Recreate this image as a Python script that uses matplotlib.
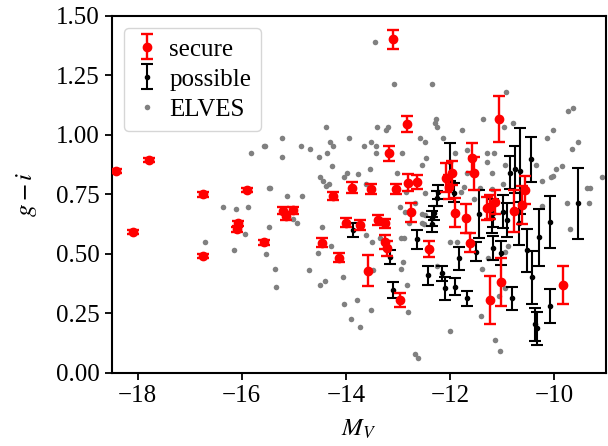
import numpy as np
import matplotlib
matplotlib.use("Agg")
import matplotlib.pyplot as plt

plt.rcParams['font.family'] = 'serif'
plt.rcParams['font.serif'] = ['Liberation Serif', 'DejaVu Serif']
plt.rcParams['mathtext.fontset'] = 'stix'
plt.rcParams['font.size'] = 18

# secure satellites: M_V, g-i, error
sec_mv = [-18.42, -18.09, -17.78, -16.75, -16.75, -16.07, -16.10, -15.90, -15.58,
          -15.21, -15.02, -15.15, -14.25, -14.45, -14.14, -13.99, -13.88, -13.73,
          -13.57, -13.52, -13.39, -13.24, -13.24, -13.20, -13.10, -13.17, -13.04,
          -12.95, -12.83, -12.80, -12.75, -12.63, -12.40, -12.08, -11.96, -12.02,
          -11.90, -11.70, -11.62, -11.57, -11.53, -11.29, -11.22, -11.14, -11.05,
          -11.22, -11.01, -10.77, -10.61, -10.56, -9.82]
sec_gi = [0.847, 0.59, 0.893, 0.749, 0.49, 0.627, 0.603, 0.767, 0.548,
          0.68, 0.683, 0.658, 0.742, 0.546, 0.483, 0.63, 0.777, 0.62,
          0.428, 0.772, 0.641, 0.627, 0.55, 0.522, 1.40, 0.921, 0.772,
          0.305, 1.045, 0.798, 0.674, 0.802, 0.52, 0.819, 0.837, 0.781,
          0.672, 0.648, 0.546, 0.903, 0.837, 0.69, 0.697, 0.718, 1.065,
          0.305, 0.382, 0.679, 0.704, 0.767, 0.368]
sec_err = [0.008, 0.008, 0.008, 0.01, 0.01, 0.01, 0.01, 0.008, 0.01,
           0.015, 0.015, 0.015, 0.018, 0.018, 0.018, 0.018, 0.022, 0.022,
           0.065, 0.022, 0.02, 0.02, 0.03, 0.03, 0.04, 0.03, 0.022,
           0.03, 0.035, 0.035, 0.04, 0.03, 0.035, 0.06, 0.05, 0.05,
           0.06, 0.06, 0.04, 0.06, 0.07, 0.05, 0.05, 0.05, 0.097,
           0.1, 0.1, 0.09, 0.08, 0.06, 0.08]

# possible satellites
pos_mv = [-13.87, -13.15, -13.09, -12.63, -12.43, -12.35, -12.34, -12.31, -12.25,
          -12.23, -12.15, -12.10, -12.00, -11.92, -11.90, -11.83, -11.67, -11.50,
          -11.44, -11.18, -11.18, -11.01, -10.98, -10.90, -10.84, -10.81, -10.74,
          -10.66, -10.52, -10.45, -10.43, -10.37, -10.33, -10.28, -10.08, -10.08,
          -9.54, -11.20, -10.68]
pos_gi = [0.60, 0.487, 0.347, 0.561, 0.41, 0.648, 0.623, 0.672, 0.732,
          0.76, 0.417, 0.354, 0.886, 0.756, 0.361, 0.48, 0.312, 0.508,
          0.667, 0.525, 0.67, 0.504, 0.676, 0.641, 0.84, 0.312, 0.854,
          0.847, 0.515, 0.896, 0.40, 0.203, 0.186, 0.569, 0.634, 0.28,
          0.711, 0.648, 0.627]
pos_err = [0.03, 0.03, 0.035, 0.04, 0.04, 0.03, 0.03, 0.03, 0.03,
           0.03, 0.03, 0.05, 0.08, 0.04, 0.035, 0.05, 0.03, 0.04,
           0.1, 0.05, 0.06, 0.05, 0.07, 0.07, 0.07, 0.05, 0.1,
           0.18, 0.09, 0.093, 0.11, 0.07, 0.07, 0.12, 0.11, 0.07,
           0.15, 0.06, 0.09]

# ELVES comparison sample
elv_mv = [-15.82, -15.58, -15.48, -16.36, -16.12, -15.88, -15.48, -15.93, -16.70, -16.14, -15.54,
          -13.44, -13.07, -14.39, -13.41, -13.18, -13.22, -15.56, -15.23, -15.22, -14.86, -14.68,
          -14.51, -14.36, -14.30, -14.24, -13.93, -13.65, -13.51, -13.42, -13.42, -12.93, -12.57,
          -12.47, -12.45, -12.53, -14.27, -13.54, -13.01, -14.49, -14.43, -14.38, -14.32, -14.04,
          -13.98, -13.76, -15.45, -15.13, -14.85, -13.61, -12.84,
          -15.37, -15.34, -15.01, -14.93, -14.45, -14.29, -14.54, -14.70, -14.41, -14.50, -14.05,
          -14.03, -13.78, -13.90, -13.73, -13.52, -13.47, -13.61, -13.49, -13.35, -12.94, -12.89,
          -12.91, -12.94, -12.83, -12.80, -12.67, -12.61, -12.96, -12.86, -12.79, -12.54, -12.48,
          -12.67,
          -12.35, -10.93, -12.27, -12.28, -12.24, -11.37, -10.79, -10.96, -11.76, -9.73, -9.64,
          -10.01, -10.14, -9.54, -9.66, -12.13, -11.68, -11.28, -11.16, -11.28, -11.90, -10.95,
          -11.20, -11.68, -11.43, -11.73, -11.20, -10.98, -10.35, -10.23, -10.05, -10.01, -9.96,
          -9.84, -9.37, -9.30, -9.08, -11.78, -12.47,
          -12.53, -12.50, -12.00, -11.86, -11.54, -10.95, -11.27, -11.39, -10.95, -11.06, -11.41,
          -11.99, -11.14, -11.03, -9.75, -9.33, -9.69, -10.23, -12.24, -10.88]
elv_gi = [0.921, 0.953, 0.774, 0.695, 0.688, 0.695, 0.613, 0.581, 0.548, 0.515, 0.497,
          1.39, 1.213, 1.033, 1.033, 1.03, 1.02, 0.953, 0.984, 0.905, 0.953, 0.938,
          0.905, 0.921, 0.97, 0.952, 0.984, 0.953, 0.968, 0.952, 0.921, 0.921, 0.987,
          0.968, 0.903, 0.872, 0.868, 0.855, 0.84, 0.823, 0.806, 0.784, 0.793, 0.823,
          0.84, 0.835, 0.774, 0.742, 0.742, 0.793, 0.76,
          0.434, 0.359, 0.644, 0.627, 0.613, 0.532, 0.501, 0.431, 0.386, 0.368, 0.40,
          0.287, 0.305, 0.224, 0.19, 0.263, 0.431, 0.578, 0.548, 0.564, 0.564, 0.564,
          0.466, 0.434, 0.368, 0.256, 0.079, 0.06, 0.695, 0.676, 0.627, 0.627, 0.662,
          0.711,
          1.213, 1.18, 1.064, 1.047, 1.033, 1.065, 1.05, 1.033, 1.019, 1.099, 1.11,
          1.019, 0.984, 0.968, 0.938, 0.984, 0.935, 0.921, 0.921, 0.886, 0.921, 0.872,
          0.84, 0.84, 0.777, 0.781, 0.77, 0.791, 0.872, 0.806, 0.823, 0.826, 0.854,
          0.868, 0.774, 0.774, 0.823, 0.758, 0.756,
          0.667, 0.623, 0.548, 0.548, 0.728, 0.508, 0.48, 0.434, 0.354, 0.322, 0.238,
          0.175, 0.137, 0.092, 0.711, 0.711, 0.602, 0.70, 0.448, 0.532]

fig = plt.figure(figsize=(6.08, 4.46), dpi=100)
ax = fig.add_axes([0.1837, 0.1643, 0.8130, 0.8009])

h_sec = ax.errorbar(sec_mv, sec_gi, yerr=sec_err, fmt='o', color='red', ms=6,
                    elinewidth=1.7, capsize=4, capthick=1.7, label='secure', zorder=3)
h_pos = ax.errorbar(pos_mv, pos_gi, yerr=pos_err, fmt='o', color='black', ms=3,
                    elinewidth=1.5, capsize=4, capthick=1.5, label='possible', zorder=2)
h_elv, = ax.plot(elv_mv, elv_gi, 'o', color='gray', ms=4, mew=0, label='ELVES', zorder=1)

ax.set_xlim(-18.5, -9)
ax.set_ylim(0, 1.5)
ax.set_yticks([0, 0.25, 0.5, 0.75, 1.0, 1.25, 1.5])
ax.set_xticks([-18, -16, -14, -12, -10])
ax.set_xlabel('$M_V$', labelpad=8)
ax.set_ylabel('$g-i$', labelpad=12)
for s in ax.spines.values():
    s.set_linewidth(1.5)
ax.tick_params(width=1.3, length=5, labelsize=18)
ax.legend(handles=[h_sec, h_pos, h_elv], loc='upper left', fontsize=18,
          borderaxespad=0.5, handlelength=1.0, handletextpad=0.4,
          labelspacing=0.3, borderpad=0.4)

fig.savefig('out.png', dpi=100)
